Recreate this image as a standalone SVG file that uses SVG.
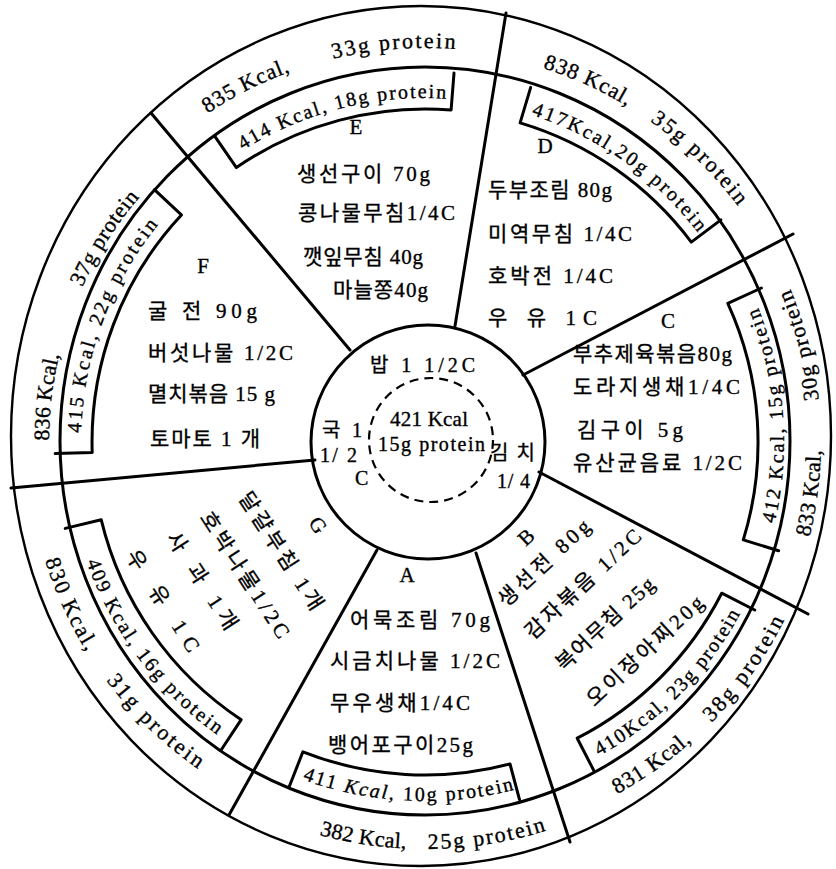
<svg xmlns="http://www.w3.org/2000/svg" width="836" height="869" viewBox="0 0 836 869">
<style>
.ln{fill:none;stroke:#000;stroke-width:3;stroke-linejoin:round;stroke-linecap:round}
.thin{fill:none;stroke:#000;stroke-width:2.4}
.t{font-family:"Liberation Serif","Noto Sans CJK KR",serif;fill:#000;stroke:#000;stroke-width:0.35}
.o{font-size:22px}
.b{font-size:20px}
.f{font-size:21px}
.s{font-size:20px}
.r{text-anchor:middle;dominant-baseline:central}
</style>
<defs>
<path id="p1a" d="M207.5 113.4 A394 394 0 0 1 290.2 71.8"/>
<path id="p1b" d="M333.0 58.9 A394 394 0 0 1 455.2 49.1"/>
<path id="p2a" d="M542.9 68.1 A392 392 0 0 1 626.9 106.0"/>
<path id="p2b" d="M649.9 120.9 A392 392 0 0 1 738.1 206.1"/>
<path id="p3a" d="M809.4 537.1 A396 396 0 0 0 820.9 450.3"/>
<path id="p3b" d="M818.7 399.9 A396 396 0 0 0 790.3 289.2"/>
<path id="p4a" d="M617.0 794.1 A401 401 0 0 0 691.7 741.4"/>
<path id="p4b" d="M711.5 722.6 A401 401 0 0 0 784.2 620.3"/>
<path id="p5a" d="M319.6 835.1 A407 407 0 0 0 405.8 848.5"/>
<path id="p5b" d="M427.8 849.0 A407 407 0 0 0 546.1 830.7"/>
<path id="p6a" d="M45.0 560.4 A398 398 0 0 0 86.7 651.7"/>
<path id="p6b" d="M106.3 680.4 A398 398 0 0 0 197.9 768.8"/>
<path id="p7a" d="M49.0 440.0 A376 376 0 0 1 59.1 355.5"/>
<path id="p7b" d="M82.3 287.3 A376 376 0 0 1 139.5 197.3"/>
<path id="qE" d="M242.7 150.3 A344 344 0 0 1 446.0 98.7"/>
<path id="qD" d="M531.3 114.8 A344 344 0 0 1 697.9 232.6"/>
<path id="qC" d="M774.5 524.0 A359 359 0 0 0 757.9 307.5"/>
<path id="qB" d="M599.0 756.0 A359 359 0 0 0 740.2 613.9"/>
<path id="qA" d="M302.2 779.4 A359 359 0 0 0 514.3 789.7"/>
<path id="qG" d="M86.6 561.8 A359 359 0 0 0 217.0 734.6"/>
<path id="qF" d="M81.1 433.0 A344 344 0 0 1 158.4 224.6"/>
</defs>
<rect width="836" height="869" fill="#fff"/>
<g id="rings">
<ellipse class="thin" cx="421" cy="436" rx="410" ry="430"/>
<ellipse class="ln" cx="425" cy="441" rx="365" ry="374"/>
</g>
<g id="connectors">
<line class="ln" x1="350" y1="350" x2="151" y2="113"/>
<line class="ln" x1="455" y1="326" x2="506" y2="13"/>
<line class="ln" x1="523" y1="375" x2="793" y2="234"/>
<line class="ln" x1="539" y1="472" x2="808" y2="614"/>
<line class="ln" x1="476" y1="553" x2="570" y2="842"/>
<line class="ln" x1="377" y1="550" x2="229" y2="815"/>
<line class="ln" x1="315" y1="460" x2="11" y2="488"/>
</g>
<g id="outer-labels" class="t o">
<text><textPath href="#p1a" startOffset="50%" text-anchor="middle" textLength="92.8">835 Kcal,</textPath></text>
<text><textPath href="#p1b" startOffset="50%" text-anchor="middle" textLength="123">33g protein</textPath></text>
<text><textPath href="#p2a" startOffset="50%" text-anchor="middle" textLength="92.4">838 Kcal,</textPath></text>
<text><textPath href="#p2b" startOffset="50%" text-anchor="middle" textLength="123">35g protein</textPath></text>
<text><textPath href="#p3a" startOffset="50%" text-anchor="middle" textLength="87.8">833 Kcal,</textPath></text>
<text><textPath href="#p3b" startOffset="50%" text-anchor="middle" textLength="114.7">30g protein</textPath></text>
<text><textPath href="#p4a" startOffset="50%" text-anchor="middle" textLength="91.7">831 Kcal,</textPath></text>
<text><textPath href="#p4b" startOffset="50%" text-anchor="middle" textLength="126">38g protein</textPath></text>
<text><textPath href="#p5a" startOffset="50%" text-anchor="middle" textLength="88">382 Kcal,</textPath></text>
<text><textPath href="#p5b" startOffset="50%" text-anchor="middle" textLength="120">25g protein</textPath></text>
<text><textPath href="#p6a" startOffset="50%" text-anchor="middle" textLength="100.7">830 Kcal,</textPath></text>
<text><textPath href="#p6b" startOffset="50%" text-anchor="middle" textLength="127.8">31g protein</textPath></text>
<text><textPath href="#p7a" startOffset="50%" text-anchor="middle" textLength="87">836 Kcal,</textPath></text>
<text><textPath href="#p7b" startOffset="50%" text-anchor="middle" textLength="107">37g protein</textPath></text>
</g>
<g id="center">
<circle class="ln" cx="428" cy="442" r="117"/>
<circle cx="431" cy="440" r="62" fill="none" stroke="#000" stroke-width="2.2" stroke-dasharray="9 6"/>
<g class="t s" xml:space="preserve">
<text x="370" y="372" textLength="105">밥 1  1/2C</text>
<text x="390" y="426" textLength="78" font-size="21">421 Kcal</text>
<text x="378" y="451" textLength="107">15g protein</text>
<text x="322" y="437" textLength="40">국  1</text>
<text x="320" y="462" textLength="37">1/ 2</text>
<text x="355" y="485">C</text>
<text x="490" y="460" textLength="45">김 치</text>
<text x="497" y="488" textLength="33">1/ 4</text>
</g>
</g>
<g id="node-E">
<path class="ln" d="M215.4 137.1 L236.4 167.6 A333 333 0 0 1 451.1 110.0 L454.0 73.1"/>
<text class="t b"><textPath href="#qE" startOffset="50%" text-anchor="middle" textLength="213">414 Kcal, 18g protein</textPath></text>
<g class="t f" xml:space="preserve">
<text x="356" y="134" text-anchor="middle">E</text>
<text x="297" y="181" textLength="133">생선구이  70g</text>
<text x="298" y="220" textLength="157">콩나물무침1/4C</text>
<text x="303" y="264" textLength="120">깻잎무침 40g</text>
<text x="333" y="297" textLength="95">마늘쫑40g</text>
</g>
</g>
<g id="node-D">
<path class="ln" d="M530.7 87.4 L520.1 122.9 A333 333 0 0 1 691.3 242.1 L720.9 219.9"/>
<text class="t b"><textPath href="#qD" startOffset="50%" text-anchor="middle" textLength="207">417Kcal,20g protein</textPath></text>
<g class="t f" xml:space="preserve">
<text x="545" y="153" text-anchor="middle">D</text>
<text x="488" y="197" textLength="124">두부조림 80g</text>
<text x="488" y="241" textLength="144">미역무침 1/4C</text>
<text x="488" y="283" textLength="125">호박전 1/4C</text>
<text x="488" y="325" textLength="109">우  유  1C</text>
</g>
</g>
<g id="node-C">
<path class="ln" d="M761.4 288.0 L727.8 303.4 A333 333 0 0 1 743.3 539.9 L778.6 550.8"/>
<text class="t b"><textPath href="#qC" startOffset="50%" text-anchor="middle" textLength="220">412 Kcal, 15g protein</textPath></text>
<g class="t f" xml:space="preserve">
<text x="668" y="328" text-anchor="middle">C</text>
<text x="573" y="361" textLength="159">부추제육볶음80g</text>
<text x="573" y="394" textLength="167">도라지생채1/4C</text>
<text x="577" y="437" textLength="106">김구이  5g</text>
<text x="573" y="470" textLength="169">유산균음료 1/2C</text>
</g>
</g>
<g id="node-B">
<path class="ln" d="M754.7 610.0 L721.7 593.2 A333 333 0 0 1 577.2 738.2 L594.1 771.1"/>
<text class="t b"><textPath href="#qB" startOffset="50%" text-anchor="middle" textLength="203">410Kcal, 23g protein</textPath></text>
<g class="t f r" xml:space="preserve">
<text x="526" y="537" transform="rotate(-43 526 537)">B</text>
<text x="544" y="563" transform="rotate(-43 544 563)" textLength="117">생선전 80g</text>
<text x="583" y="584" transform="rotate(-43 583 584)" textLength="150">감자볶음 1/2C</text>
<text x="605" y="624" transform="rotate(-43 605 624)" textLength="126">복어무침 25g</text>
<text x="645" y="651" transform="rotate(-43 645 651)" textLength="151">오이장아찌20g</text>
</g>
</g>
<g id="node-A">
<path class="ln" d="M519.5 799.7 L510.0 764.0 A333 333 0 0 1 302.9 751.8 L289.4 786.2"/>
<text class="t b"><textPath href="#qA" startOffset="50%" text-anchor="middle" textLength="215">411 <tspan font-style="italic">Kcal,</tspan> 10g protein</textPath></text>
<g class="t f" xml:space="preserve">
<text x="407" y="582" text-anchor="middle">A</text>
<text x="350" y="627" textLength="140">어묵조림    70g</text>
<text x="330" y="668" textLength="170">시금치나물 1/2C</text>
<text x="330" y="710" textLength="140">무우생채1/4C</text>
<text x="328" y="752" textLength="145">뱅어포구이25g</text>
</g>
</g>
<g id="node-G">
<path class="ln" d="M220.8 750.5 L241.2 719.7 A333 333 0 0 1 101.2 519.7 L65.2 528.4"/>
<text class="t b"><textPath href="#qG" startOffset="50%" text-anchor="middle" textLength="220">409 Kcal, 16g protein</textPath></text>
<g class="t f r" xml:space="preserve">
<text x="318" y="525" transform="rotate(57 318 525)">G</text>
<text x="281" y="551" transform="rotate(57 281 551)" textLength="136">달걀부침 1개</text>
<text x="245" y="575" transform="rotate(57 245 575)" textLength="146">호박나물1/2C</text>
<text x="202" y="581" transform="rotate(57 202 581)" textLength="112">사   과 1개</text>
<text x="163" y="601" transform="rotate(57 163 601)" textLength="117">우   유  1C</text>
</g>
</g>
<g id="node-F">
<path class="ln" d="M55.2 453.6 L92.2 452.5 A333 333 0 0 1 181.4 214.9 L154.4 189.7"/>
<text class="t b"><textPath href="#qF" startOffset="50%" text-anchor="middle" textLength="226">415 Kcal, 22g protein</textPath></text>
<g class="t f" xml:space="preserve">
<text x="203" y="273" text-anchor="middle">F</text>
<text x="148" y="318" textLength="109">굴   전 90g</text>
<text x="148" y="360" textLength="145">버섯나물 1/2C</text>
<text x="148" y="401" textLength="127">멸치볶음 15 g</text>
<text x="150" y="446" textLength="110">토마토 1 개</text>
</g>
</g>
</svg>
